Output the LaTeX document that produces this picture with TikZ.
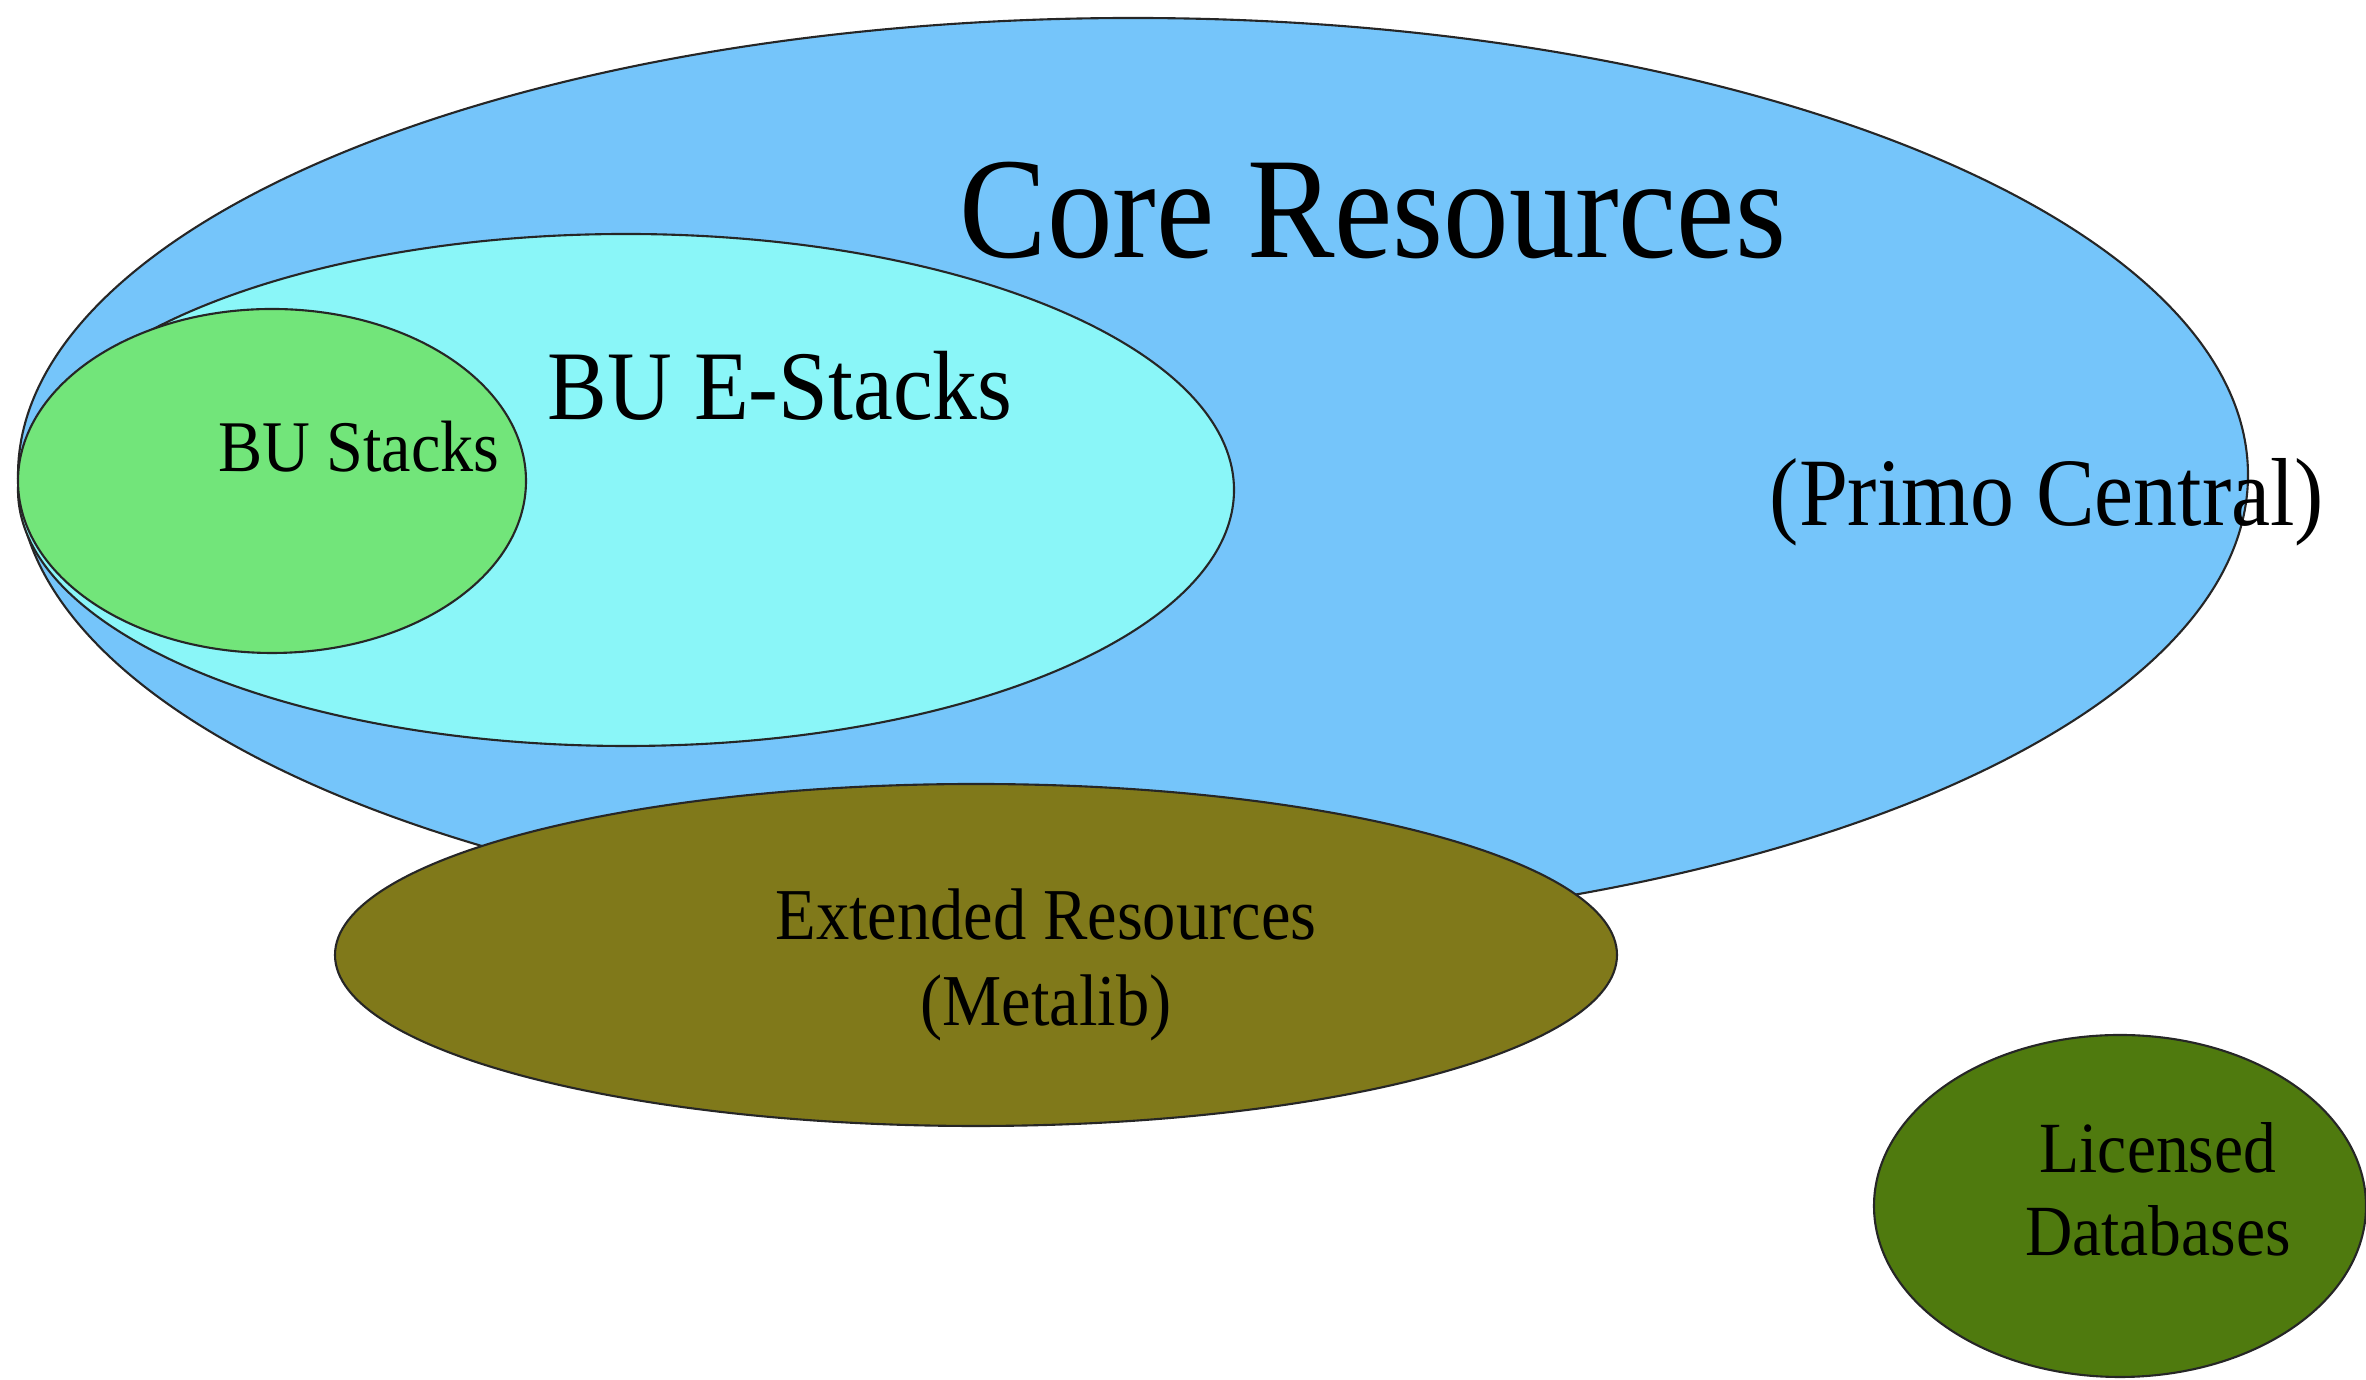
\documentclass[tikz,border=0pt]{standalone}
\usepackage{fontspec}
\setmainfont[FakeStretch=0.91]{Liberation Serif}
\usetikzlibrary{shapes.geometric}

\definecolor{coreblue}{RGB}{117,197,250}
\definecolor{ecyan}{RGB}{138,246,248}
\definecolor{stackgreen}{RGB}{114,229,122}
\definecolor{extolive}{RGB}{128,121,26}
\definecolor{licgreen}{RGB}{79,122,14}

\begin{document}
\begin{tikzpicture}[x=1cm,y=1cm,
  set/.style={ellipse,draw=black!85,line width=0.6pt,inner sep=0pt},
  lbl/.style={inner sep=0pt,align=center}]
\useasboundingbox (0,0) rectangle (23.66,13.80);
% the sets
\node[set,fill=coreblue,minimum width=22.30cm,minimum height=9.14cm] (core) at (11.33,9.05) {};
\node[set,fill=ecyan,minimum width=12.16cm,minimum height=5.12cm] (estacks) at (6.26,8.90) {};
\node[set,fill=stackgreen,minimum width=5.08cm,minimum height=3.44cm] (stacks) at (2.72,8.99) {};
\node[set,fill=extolive,minimum width=12.82cm,minimum height=3.42cm] (ext) at (9.76,4.25) {};
\node[set,fill=licgreen,minimum width=4.92cm,minimum height=3.42cm] (lic) at (21.20,1.74) {};
% labels
\node[lbl,font=\fontsize{41}{48}\selectfont] (coretxt) at (13.73,11.69) {Core Resources};
\node[lbl,font=\fontsize{27.5}{32}\selectfont] (primotxt) at (20.47,8.78) {(Primo Central)};
\node[lbl,font=\fontsize{28}{33}\selectfont] (estackstxt) at (7.80,9.94) {BU E-Stacks};
\node[lbl,font=\fontsize{20.7}{24}\selectfont] (stackstxt) at (3.59,9.33) {BU Stacks};
\node[lbl,font=\fontsize{20.8}{24.5}\selectfont] (exttxt) at (10.46,4.15) {Extended Resources\\(Metalib)};
\node[lbl,font=\fontsize{20.5}{23.6}\selectfont] (lictxt) at (21.58,1.91) {Licensed\\Databases};
\end{tikzpicture}
\end{document}
